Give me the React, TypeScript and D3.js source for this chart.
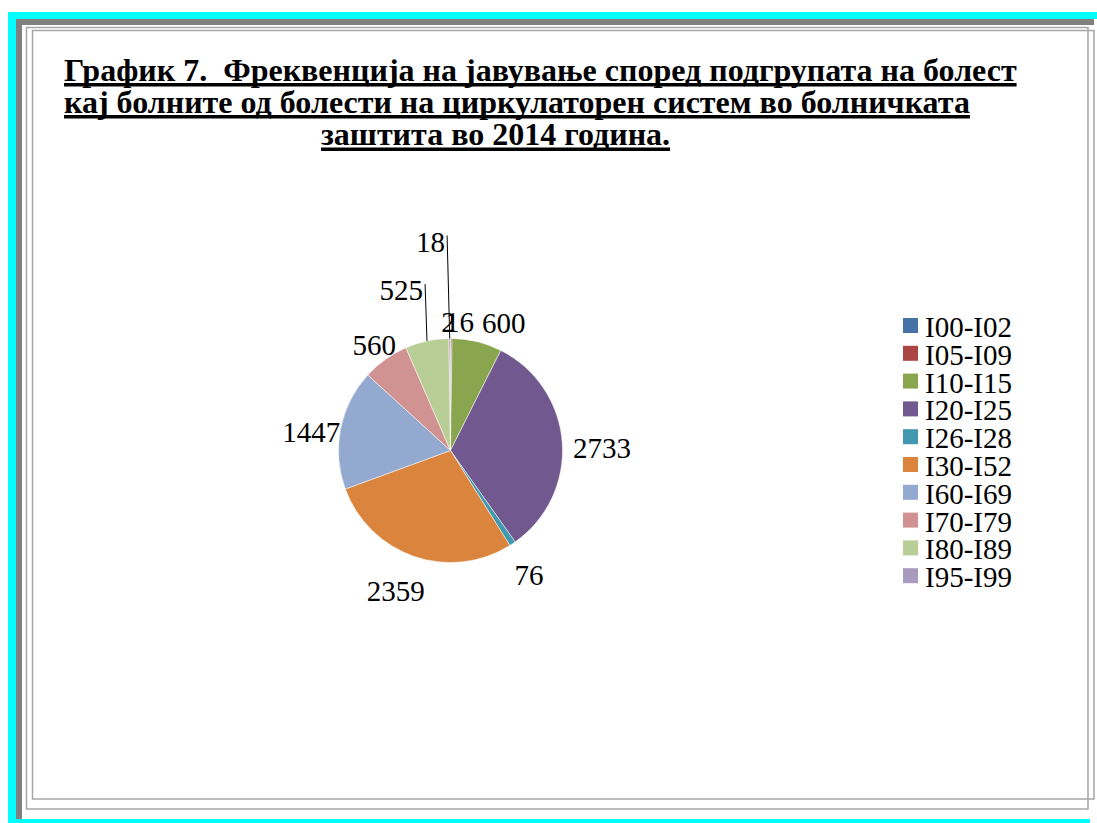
// Pie chart of the frequency of circulatory system disease subgroups (hospital care, 2014)
// drawn with d3 into an svg ref, frame + title + pie + labels + legend
import React, { useRef, useEffect } from 'react';
import * as d3 from 'd3';

// data
const categories = ['I00-I02', 'I05-I09', 'I10-I15', 'I20-I25', 'I26-I28', 'I30-I52', 'I60-I69', 'I70-I79', 'I80-I89', 'I95-I99'];
const values = [2, 16, 600, 2733, 76, 2359, 1447, 560, 525, 18];
const colors = ['#4572A7', '#AA4643', '#89A54E', '#71588F', '#4198AF', '#DB843D', '#93A9CF', '#D19392', '#B9CD96', '#A99BBD'];
const titleLines = [
  'График 7.  Фреквенција на јавување според подгрупата на болест',
  'кај болните од болести на циркулаторен систем во болничката',
  'заштита во 2014 година.'
];

// label tweaks (Excel moved a few labels to avoid overlaps)
const labelNudge: Record<string, [number, number]> = {
  'I00-I02': [-7, 3],
  'I05-I09': [3, 3],
  'I10-I15': [15, 0],
  'I30-I52': [-12, 0]
};
// labels pulled outward with a leader line: [extra radius, x shift of text end]
const leaderLift: Record<string, [number, number]> = { 'I80-I89': [52, 7], 'I95-I99': [97, -4] };

const width = 1097;
const height = 823;

export default function App() {
  const ref = useRef<SVGSVGElement>(null);

  useEffect(() => {
    const svg = d3.select(ref.current);
    svg.selectAll('*').remove();
    const serif = '"Liberation Serif", "Times New Roman", serif';

    // frame
    const frame = svg.append('g');
    frame.append('rect').attr('x', 8).attr('y', 12).attr('width', 1089).attr('height', 7).attr('fill', '#00FFFF');
    frame.append('rect').attr('x', 8).attr('y', 12).attr('width', 8).attr('height', 811).attr('fill', '#00FFFF');
    frame.append('rect').attr('x', 8).attr('y', 819).attr('width', 1082).attr('height', 4).attr('fill', '#00FFFF');
    frame.append('rect').attr('x', 16).attr('y', 19).attr('width', 1078).attr('height', 6).attr('fill', '#808080');
    frame.append('rect').attr('x', 16).attr('y', 19).attr('width', 6).attr('height', 800).attr('fill', '#808080');
    frame.append('rect').attr('x', 26.5).attr('y', 27.5).attr('width', 1061.5).attr('height', 781.5)
      .attr('fill', 'none').attr('stroke', '#a6a6a6').attr('stroke-width', 1.5);
    frame.append('rect').attr('x', 32.5).attr('y', 30.5).attr('width', 1061.5).attr('height', 768.5)
      .attr('fill', 'none').attr('stroke', '#a6a6a6').attr('stroke-width', 1.5);

    // title, bold + thick underline
    const titleX = [64, 64, 321];
    const titleY = [80.5, 112.5, 145];
    titleLines.forEach((line, i) => {
      const t = svg.append('text')
        .attr('x', titleX[i])
        .attr('y', titleY[i])
        .style('font-family', serif)
        .style('font-weight', 'bold')
        .style('font-size', '32px')
        .style('white-space', 'pre')
        .attr('fill', '#000')
        .text(line);
      const w = (t.node() as SVGTextElement).getComputedTextLength();
      svg.append('rect')
        .attr('x', titleX[i])
        .attr('y', titleY[i] + 2.5)
        .attr('width', w)
        .attr('height', 3.5)
        .attr('fill', '#000');
    });

    // pie
    const cx = 450.5;
    const cy = 450.5;
    const r = 112;
    const pie = d3.pie<number>().sort(null).value(d => d);
    const arcs = pie(values);
    const arc = d3.arc<d3.PieArcDatum<number>>().innerRadius(0).outerRadius(r);

    const g = svg.append('g').attr('transform', `translate(${cx},${cy})`);
    g.selectAll('path')
      .data(arcs)
      .enter()
      .append('path')
      .attr('d', arc)
      .attr('fill', (d, i) => colors[i])
      .attr('stroke', '#fff')
      .attr('stroke-width', 0.5);

    // data labels
    arcs.forEach((d, i) => {
      const a = (d.startAngle + d.endAngle) / 2;
      const s = Math.sin(a);
      const c = Math.cos(a);
      const txt = String(values[i]);
      const w = txt.length * 14.5;
      const cat = categories[i];
      if (leaderLift[cat]) {
        const [lift, shift] = leaderLift[cat];
        const R = r + lift;
        const ax = s * R;
        const ay = -c * R;
        g.append('line')
          .attr('x1', ax + shift + 2).attr('y1', ay - 6)
          .attr('x2', s * r).attr('y2', -c * r)
          .attr('stroke', '#000').attr('stroke-width', 1);
        g.append('text')
          .attr('x', ax + shift)
          .attr('y', ay + 10)
          .attr('text-anchor', 'end')
          .style('font-family', serif)
          .style('font-size', '29px')
          .attr('fill', '#000')
          .text(txt);
        return;
      }
      const nudge = labelNudge[cat] || [0, 0];
      const lx = s * (r + 6 + w / 2) + 5 + nudge[0];
      const ly = -c * (r + 28) + 8 + nudge[1];
      g.append('text')
        .attr('x', lx)
        .attr('y', ly + 10)
        .attr('text-anchor', 'middle')
        .style('font-family', serif)
        .style('font-size', '29px')
        .attr('fill', '#000')
        .text(txt);
    });

    // legend
    const legend = svg.append('g').attr('transform', 'translate(903,318)');
    const rowH = 27.8;
    categories.forEach((cat, i) => {
      legend.append('rect')
        .attr('x', 0).attr('y', i * rowH)
        .attr('width', 15).attr('height', 15)
        .attr('fill', colors[i]);
      legend.append('text')
        .attr('x', 22).attr('y', i * rowH + 19)
        .style('font-family', serif)
        .style('font-size', '29px')
        .attr('fill', '#000')
        .text(cat);
    });
  }, []);

  return (
    <svg
      ref={ref}
      width={width}
      height={height}
      style={{ position: 'absolute', left: 0, top: 0, background: '#fff' }}
    />
  );
}
